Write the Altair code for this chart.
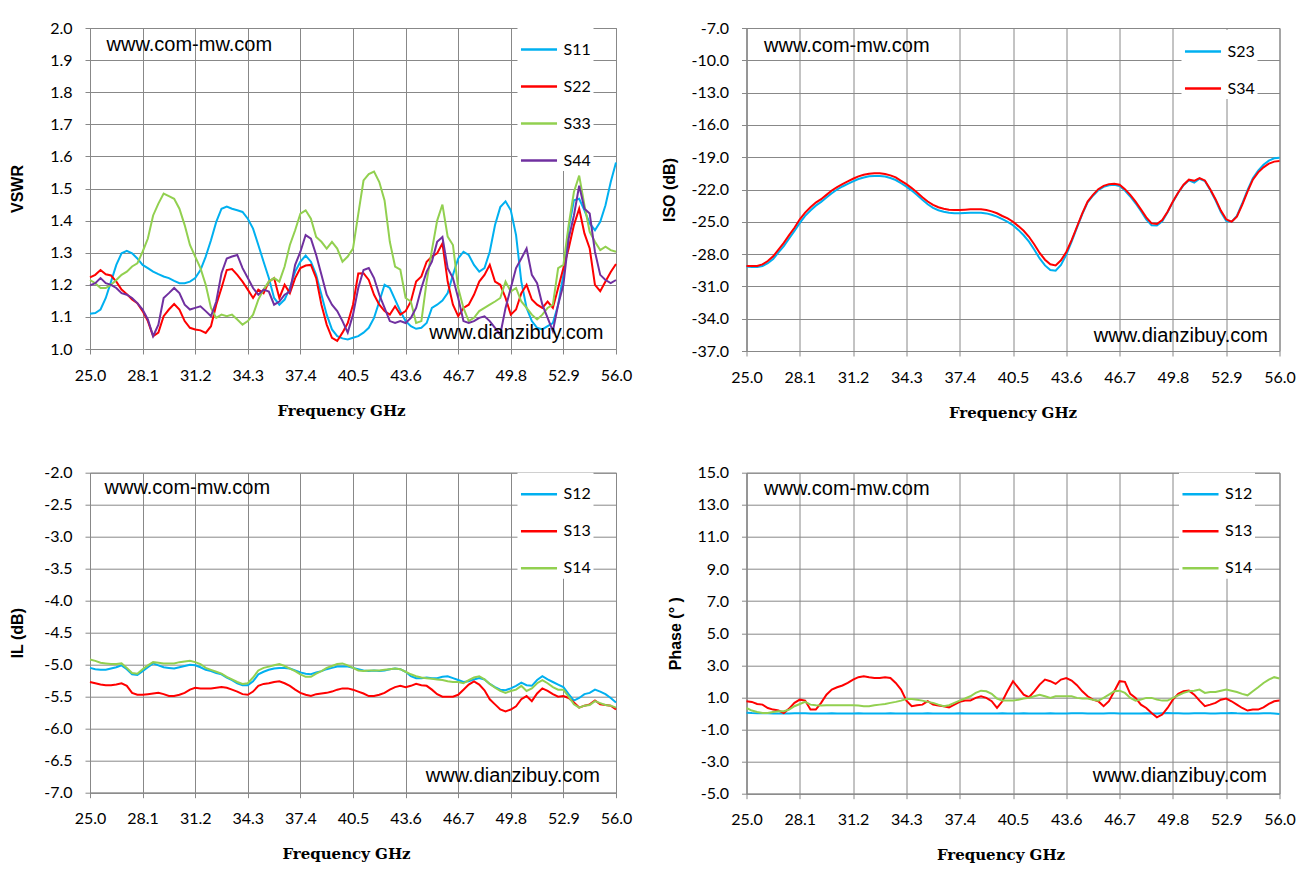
import altair as alt
import pandas as pd

# sample grid of the sweep, GHz (every 0.31 GHz from 25.0 to 56.0)
freq = [round(25 + 0.31 * i, 2) for i in range(101)]
x_ticks = [25.0, 28.1, 31.2, 34.3, 37.4, 40.5, 43.6, 46.7, 49.8, 52.9, 56.0]

vswr_s11 = [
    1.110, 1.112, 1.123, 1.159, 1.210, 1.262, 1.298, 1.306, 1.298, 1.282,
    1.262, 1.252, 1.241, 1.233, 1.226, 1.221, 1.212, 1.205, 1.205, 1.210,
    1.221, 1.246, 1.288, 1.339, 1.396, 1.437, 1.444, 1.437, 1.432, 1.427,
    1.406, 1.375, 1.324, 1.272, 1.221, 1.159, 1.138, 1.154, 1.190, 1.241,
    1.272, 1.291, 1.272, 1.231, 1.169, 1.107, 1.061, 1.040, 1.033, 1.030,
    1.035, 1.040, 1.051, 1.066, 1.097, 1.148, 1.200, 1.190, 1.154, 1.118,
    1.087, 1.071, 1.063, 1.066, 1.081, 1.128, 1.138, 1.151, 1.174, 1.231,
    1.282, 1.303, 1.293, 1.262, 1.241, 1.252, 1.303, 1.386, 1.442, 1.460,
    1.432, 1.355, 1.210, 1.128, 1.087, 1.066, 1.061, 1.071, 1.081, 1.138,
    1.231, 1.375, 1.463, 1.468, 1.432, 1.391, 1.370, 1.396, 1.448, 1.520,
    1.581,
]
vswr_s22 = [
    1.223, 1.231, 1.246, 1.233, 1.229, 1.210, 1.185, 1.171, 1.154, 1.143,
    1.118, 1.087, 1.040, 1.051, 1.102, 1.123, 1.140, 1.123, 1.087, 1.066,
    1.061, 1.058, 1.050, 1.071, 1.138, 1.190, 1.246, 1.249, 1.231, 1.210,
    1.185, 1.159, 1.185, 1.174, 1.210, 1.221, 1.159, 1.200, 1.174, 1.221,
    1.252, 1.260, 1.262, 1.221, 1.138, 1.076, 1.035, 1.025, 1.051, 1.081,
    1.138, 1.235, 1.236, 1.215, 1.169, 1.138, 1.118, 1.107, 1.133, 1.107,
    1.118, 1.148, 1.210, 1.226, 1.272, 1.288, 1.298, 1.329, 1.210, 1.138,
    1.102, 1.128, 1.138, 1.169, 1.210, 1.231, 1.262, 1.210, 1.200, 1.159,
    1.107, 1.123, 1.174, 1.200, 1.154, 1.138, 1.128, 1.148, 1.128, 1.190,
    1.252, 1.313, 1.386, 1.437, 1.360, 1.313, 1.200, 1.180, 1.210, 1.240,
    1.265,
]
vswr_s33 = [
    1.215, 1.205, 1.190, 1.190, 1.200, 1.215, 1.231, 1.241, 1.257, 1.267,
    1.303, 1.344, 1.416, 1.453, 1.484, 1.476, 1.468, 1.437, 1.386, 1.324,
    1.288, 1.252, 1.200, 1.128, 1.097, 1.107, 1.102, 1.107, 1.092, 1.076,
    1.087, 1.107, 1.154, 1.185, 1.210, 1.221, 1.210, 1.257, 1.324, 1.370,
    1.422, 1.432, 1.406, 1.349, 1.334, 1.313, 1.334, 1.313, 1.272, 1.288,
    1.313, 1.420, 1.525, 1.545, 1.553, 1.520, 1.463, 1.334, 1.257, 1.247,
    1.159, 1.148, 1.081, 1.087, 1.210, 1.308, 1.400, 1.450, 1.350, 1.324,
    1.190, 1.128, 1.087, 1.097, 1.118, 1.128, 1.138, 1.148, 1.159, 1.210,
    1.179, 1.190, 1.148, 1.128, 1.107, 1.092, 1.107, 1.128, 1.138, 1.252,
    1.262, 1.386, 1.489, 1.540, 1.448, 1.365, 1.334, 1.308, 1.319, 1.308,
    1.303,
]
vswr_s44 = [
    1.198, 1.205, 1.221, 1.205, 1.200, 1.190, 1.174, 1.169, 1.159, 1.143,
    1.123, 1.092, 1.040, 1.076, 1.159, 1.174, 1.190, 1.174, 1.138, 1.123,
    1.128, 1.133, 1.118, 1.102, 1.148, 1.236, 1.282, 1.288, 1.293, 1.252,
    1.221, 1.190, 1.169, 1.185, 1.179, 1.138, 1.148, 1.169, 1.179, 1.262,
    1.303, 1.355, 1.344, 1.293, 1.231, 1.169, 1.138, 1.118, 1.087, 1.051,
    1.107, 1.190, 1.246, 1.252, 1.221, 1.169, 1.128, 1.087, 1.081, 1.087,
    1.081, 1.097, 1.128, 1.190, 1.241, 1.272, 1.334, 1.349, 1.252, 1.221,
    1.159, 1.087, 1.081, 1.087, 1.097, 1.102, 1.087, 1.066, 1.045, 1.128,
    1.190, 1.252, 1.282, 1.313, 1.231, 1.205, 1.138, 1.097, 1.056, 1.138,
    1.200, 1.344, 1.416, 1.509, 1.437, 1.422, 1.303, 1.231, 1.215, 1.205,
    1.215,
]

iso_s23 = [
    -29.15, -29.20, -29.20, -29.10, -28.85, -28.45, -27.85, -27.25, -26.55, -25.85,
    -25.10, -24.45, -23.95, -23.50, -23.15, -22.75, -22.35, -22.00, -21.72, -21.48,
    -21.25, -21.03, -20.88, -20.78, -20.74, -20.74, -20.80, -20.93, -21.12, -21.42,
    -21.73, -22.10, -22.52, -22.96, -23.37, -23.70, -23.93, -24.07, -24.16, -24.20,
    -24.20, -24.18, -24.16, -24.15, -24.17, -24.22, -24.35, -24.52, -24.76, -25.00,
    -25.32, -25.75, -26.25, -26.85, -27.60, -28.40, -29.05, -29.48, -29.55, -29.00,
    -28.05, -26.85, -25.55, -24.28, -23.20, -22.58, -22.07, -21.76, -21.60, -21.57,
    -21.68, -22.10, -22.65, -23.28, -24.00, -24.78, -25.33, -25.35, -24.95, -24.12,
    -23.15, -22.30, -21.60, -21.15, -21.35, -21.00, -21.22, -22.05, -23.00, -24.10,
    -24.92, -25.02, -24.45, -23.30, -22.05, -20.95, -20.25, -19.70, -19.32, -19.10,
    -19.05,
]
iso_s34 = [
    -29.11, -29.11, -29.11, -28.95, -28.64, -28.20, -27.58, -26.96, -26.24, -25.55,
    -24.77, -24.15, -23.65, -23.21, -22.90, -22.50, -22.09, -21.78, -21.50, -21.25,
    -21.00, -20.78, -20.63, -20.53, -20.50, -20.50, -20.56, -20.69, -20.88, -21.19,
    -21.50, -21.87, -22.28, -22.72, -23.12, -23.43, -23.65, -23.78, -23.87, -23.90,
    -23.90, -23.87, -23.84, -23.84, -23.84, -23.90, -24.03, -24.21, -24.46, -24.68,
    -24.99, -25.40, -25.83, -26.39, -27.11, -27.89, -28.52, -28.95, -29.05, -28.58,
    -27.80, -26.71, -25.46, -24.21, -23.12, -22.50, -21.97, -21.66, -21.50, -21.47,
    -21.56, -21.97, -22.50, -23.12, -23.84, -24.59, -25.15, -25.21, -24.84, -24.06,
    -23.12, -22.28, -21.56, -21.09, -21.19, -20.94, -21.16, -21.97, -22.90, -23.96,
    -24.77, -24.99, -24.52, -23.43, -22.19, -21.09, -20.41, -19.94, -19.60, -19.41,
    -19.35,
]

il_s12 = [
    -5.05, -5.07, -5.08, -5.08, -5.06, -5.04, -5.01, -5.07, -5.15, -5.16,
    -5.10, -5.04, -4.98, -5.01, -5.04, -5.05, -5.06, -5.04, -5.02, -5.00,
    -5.01, -5.04, -5.08, -5.10, -5.13, -5.15, -5.20, -5.24, -5.29, -5.32,
    -5.32, -5.26, -5.15, -5.11, -5.08, -5.06, -5.05, -5.05, -5.06, -5.09,
    -5.12, -5.14, -5.15, -5.12, -5.10, -5.07, -5.05, -5.03, -5.03, -5.03,
    -5.05, -5.07, -5.09, -5.10, -5.09, -5.10, -5.09, -5.07, -5.06, -5.07,
    -5.11, -5.18, -5.21, -5.21, -5.20, -5.21, -5.21, -5.19, -5.18, -5.21,
    -5.24, -5.27, -5.26, -5.23, -5.21, -5.23, -5.30, -5.35, -5.39, -5.40,
    -5.37, -5.33, -5.28, -5.32, -5.33, -5.24, -5.18, -5.23, -5.27, -5.31,
    -5.35, -5.46, -5.56, -5.52, -5.46, -5.44, -5.39, -5.42, -5.46, -5.52,
    -5.59,
]
il_s13 = [
    -5.27, -5.29, -5.31, -5.32, -5.32, -5.31, -5.29, -5.33, -5.44, -5.47,
    -5.47, -5.46, -5.45, -5.44, -5.46, -5.49, -5.49, -5.47, -5.44, -5.39,
    -5.36, -5.37, -5.37, -5.37, -5.36, -5.35, -5.36, -5.39, -5.42, -5.46,
    -5.47, -5.42, -5.33, -5.30, -5.29, -5.27, -5.26, -5.29, -5.33, -5.39,
    -5.44, -5.47, -5.49, -5.46, -5.45, -5.44, -5.42, -5.39, -5.37, -5.37,
    -5.39, -5.42, -5.45, -5.49, -5.49, -5.47, -5.44, -5.39, -5.35, -5.33,
    -5.35, -5.33, -5.30, -5.32, -5.33, -5.39, -5.46, -5.50, -5.50, -5.50,
    -5.47, -5.39, -5.31, -5.26, -5.31, -5.40, -5.54, -5.62, -5.70, -5.73,
    -5.70, -5.65, -5.54, -5.49, -5.57, -5.45, -5.37, -5.41, -5.46, -5.50,
    -5.49, -5.52, -5.59, -5.67, -5.64, -5.62, -5.56, -5.62, -5.63, -5.64,
    -5.70,
]
il_s14 = [
    -4.92, -4.94, -4.97, -4.98, -4.99, -4.99, -4.98, -5.05, -5.13, -5.14,
    -5.07, -5.01, -4.96, -4.97, -4.98, -4.98, -4.98, -4.96, -4.95, -4.94,
    -4.96, -4.99, -5.05, -5.08, -5.11, -5.14, -5.19, -5.23, -5.27, -5.30,
    -5.29, -5.20, -5.09, -5.05, -5.03, -5.01, -4.99, -5.02, -5.06, -5.10,
    -5.15, -5.19, -5.19, -5.14, -5.10, -5.05, -5.02, -4.99, -4.98, -5.01,
    -5.05, -5.09, -5.10, -5.09, -5.09, -5.09, -5.08, -5.07, -5.06, -5.07,
    -5.11, -5.15, -5.18, -5.20, -5.21, -5.22, -5.23, -5.24, -5.26, -5.27,
    -5.27, -5.29, -5.24, -5.20, -5.18, -5.23, -5.30, -5.36, -5.41, -5.44,
    -5.41, -5.39, -5.33, -5.41, -5.37, -5.29, -5.24, -5.29, -5.35, -5.39,
    -5.39, -5.50, -5.62, -5.67, -5.64, -5.63, -5.57, -5.60, -5.63, -5.64,
    -5.67,
]

ph_s12 = [
    0.05, 0.03, 0.02, 0.02, 0.01, 0.00, 0.00, -0.01, 0.00, 0.01,
    0.02, 0.01, 0.00, -0.01, 0.00, 0.00, 0.01, 0.00, -0.01, 0.00,
    0.00, 0.01, 0.00, 0.00, -0.01, 0.00, 0.00, 0.01, 0.00, 0.00,
    0.00, -0.01, 0.00, 0.00, 0.01, 0.00, 0.00, -0.01, 0.00, 0.00,
    0.01, 0.00, 0.00, 0.00, -0.01, 0.00, 0.00, 0.00, 0.01, 0.00,
    0.00, 0.00, 0.01, 0.00, -0.01, 0.00, 0.00, 0.01, 0.00, 0.00,
    0.00, 0.01, 0.02, 0.01, 0.00, 0.00, -0.01, 0.00, 0.02, 0.01,
    0.00, 0.00, 0.00, -0.01, 0.00, 0.01, 0.00, 0.00, 0.02, 0.03,
    0.02, 0.01, 0.00, 0.00, 0.01, 0.02, 0.01, 0.00, 0.00, 0.01,
    0.02, 0.03, 0.01, 0.00, -0.01, 0.00, 0.00, 0.01, 0.02, 0.00,
    -0.04,
]
ph_s13 = [
    0.76, 0.72, 0.59, 0.55, 0.34, 0.24, 0.18, 0.03, 0.30, 0.66,
    0.86, 0.80, 0.24, 0.24, 0.66, 1.17, 1.49, 1.63, 1.74, 1.90,
    2.11, 2.26, 2.32, 2.26, 2.21, 2.21, 2.26, 2.21, 1.90, 1.49,
    0.80, 0.45, 0.51, 0.55, 0.76, 0.55, 0.49, 0.45, 0.38, 0.55,
    0.72, 0.80, 0.80, 0.97, 1.07, 0.97, 0.76, 0.34, 0.76, 1.42,
    2.01, 1.59, 1.17, 1.01, 1.38, 1.80, 2.11, 2.01, 1.84, 2.11,
    2.21, 2.05, 1.76, 1.38, 1.07, 0.86, 0.76, 0.45, 0.76, 1.38,
    2.01, 1.97, 1.22, 0.97, 0.55, 0.34, 0.03, -0.24, -0.07, 0.34,
    0.86, 1.22, 1.38, 1.42, 1.17, 0.80, 0.45, 0.55, 0.66, 0.86,
    0.93, 0.76, 0.55, 0.34, 0.18, 0.24, 0.24, 0.38, 0.59, 0.76,
    0.80,
]
ph_s14 = [
    0.34, 0.18, 0.09, 0.03, 0.03, 0.09, 0.14, 0.14, 0.24, 0.45,
    0.59, 0.72, 0.55, 0.51, 0.49, 0.51, 0.51, 0.51, 0.51, 0.51,
    0.51, 0.49, 0.45, 0.45, 0.51, 0.55, 0.59, 0.66, 0.72, 0.80,
    0.90, 0.90, 0.86, 0.80, 0.72, 0.66, 0.55, 0.45, 0.51, 0.66,
    0.80, 0.93, 1.07, 1.28, 1.42, 1.38, 1.22, 0.93, 0.80, 0.80,
    0.80, 0.86, 0.93, 0.97, 1.07, 1.17, 1.07, 0.97, 1.07, 1.07,
    1.07, 1.07, 0.97, 0.93, 0.93, 0.86, 0.80, 0.97, 1.17, 1.38,
    1.42, 1.28, 0.97, 0.80, 0.86, 0.97, 0.97, 0.86, 0.80, 0.80,
    0.97, 1.13, 1.28, 1.38, 1.42, 1.49, 1.28, 1.34, 1.34, 1.42,
    1.49, 1.42, 1.34, 1.22, 1.13, 1.38, 1.63, 1.90, 2.11, 2.26,
    2.18,
]

vswr_ticks = [1.0, 1.1, 1.2, 1.3, 1.4, 1.5, 1.6, 1.7, 1.8, 1.9, 2.0]
iso_ticks = [-37.0, -34.0, -31.0, -28.0, -25.0, -22.0, -19.0, -16.0, -13.0, -10.0, -7.0]
il_ticks = [-7.0, -6.5, -6.0, -5.5, -5.0, -4.5, -4.0, -3.5, -3.0, -2.5, -2.0]
ph_ticks = [-5.0, -3.0, -1.0, 1.0, 3.0, 5.0, 7.0, 9.0, 11.0, 13.0, 15.0]

BLUE, RED, GREEN, PURPLE = "#00B0F0", "#FF0000", "#92D050", "#7030A0"
GRID = "#888888"
# plain hyphen instead of d3's unicode minus
HYPHEN = "replace(datum.label, '\u2212', '-')"


def panel(series, colors, y_title, y_ticks, width, height, title_pad, x_title_x,
          legend_xy, top_xy, bottom_xy):
    rows = []
    for name, values in series.items():
        for f, v in zip(freq, values):
            rows.append({"freq": f, "value": v, "series": name})
    df = pd.DataFrame(rows)

    lines = alt.Chart(df).mark_line(strokeWidth=2).encode(
        x=alt.X("freq:Q",
                scale=alt.Scale(domain=[25, 56], nice=False, zero=False),
                axis=alt.Axis(values=x_ticks, format=".1f", title="Frequency GHz",
                              titleX=x_title_x)),
        y=alt.Y("value:Q",
                scale=alt.Scale(domain=[y_ticks[0], y_ticks[-1]], nice=False, zero=False),
                axis=alt.Axis(values=y_ticks, format=".1f", labelExpr=HYPHEN,
                              title=y_title, titlePadding=title_pad)),
        color=alt.Color("series:N", title=None,
                        scale=alt.Scale(domain=list(series), range=colors),
                        legend=alt.Legend(orient="none", legendX=legend_xy[0], legendY=legend_xy[1])),
    )
    top = alt.Chart(pd.DataFrame({"t": ["www.com-mw.com"]})).mark_text(
        align="left", baseline="alphabetic", font="Liberation Sans", fontSize=20, color="black"
    ).encode(text="t:N", x=alt.value(top_xy[0]), y=alt.value(top_xy[1]))
    bottom = alt.Chart(pd.DataFrame({"t": ["www.dianzibuy.com"]})).mark_text(
        align="right", baseline="alphabetic", font="Liberation Sans", fontSize=20, color="black"
    ).encode(text="t:N", x=alt.value(bottom_xy[0]), y=alt.value(bottom_xy[1]))
    return alt.layer(lines, top, bottom).properties(width=width, height=height)


p1 = panel({"S11": vswr_s11, "S22": vswr_s22, "S33": vswr_s33, "S44": vswr_s44},
           [BLUE, RED, GREEN, PURPLE], "VSWR", vswr_ticks, 526, 321, 14.5, 251,
           (427.5, 0), (16.5, 23), (513.5, 311))
p2 = panel({"S23": iso_s23, "S34": iso_s34},
           [BLUE, RED], "ISO (dB)", iso_ticks, 533, 323, 19, 266,
           (435, 2), (17.5, 24), (521.5, 314))
p3 = panel({"S12": il_s12, "S13": il_s13, "S14": il_s14},
           [BLUE, RED, GREEN], "IL (dB)", il_ticks, 526, 320, 15, 256,
           (427.5, 0), (14.5, 21.5), (510, 309.5))
p4 = panel({"S12": ph_s12, "S13": ph_s13, "S14": ph_s14},
           [BLUE, RED, GREEN], "Phase (° )", ph_ticks, 533, 321, 13.5, 254,
           (432.5, 0), (17.5, 22), (520.5, 309.5))

chart = alt.concat(
    p1, p2, p3, p4, columns=2, bounds="flush",
    spacing=alt.RowColnumber(row=121.7, column=130.5),
).resolve_scale(
    color="independent",
).resolve_legend(
    color="independent",
).properties(
    padding={"left": 0, "top": 11, "right": 0, "bottom": 0},
).configure_view(
    stroke=GRID, strokeWidth=1,
).configure_axis(
    grid=True, gridColor=GRID, gridWidth=1, domainColor=GRID, tickColor=GRID,
    tickSize=5, labelPadding=13, labelFont="Lato", labelFontSize=16, labelColor="black",
    titleColor="black", labelOverlap=False,
).configure_axisX(
    labelFlush=False, titleFont="DejaVu Serif", titleFontSize=15, titleFontWeight="bold",
    titlePadding=20,
).configure_axisY(
    titleFont="Liberation Sans", titleFontSize=16, titleFontWeight="bold",
    minExtent=50, maxExtent=50,
).configure_legend(
    fillColor="white", padding=2, symbolType="stroke", symbolSize=1300,
    symbolStrokeWidth=2.5, labelFont="Lato", labelFontSize=16, labelColor="black",
    rowPadding=9, labelOffset=5,
)

chart.save("out.html", embed_options={"renderer": "svg", "actions": False})
